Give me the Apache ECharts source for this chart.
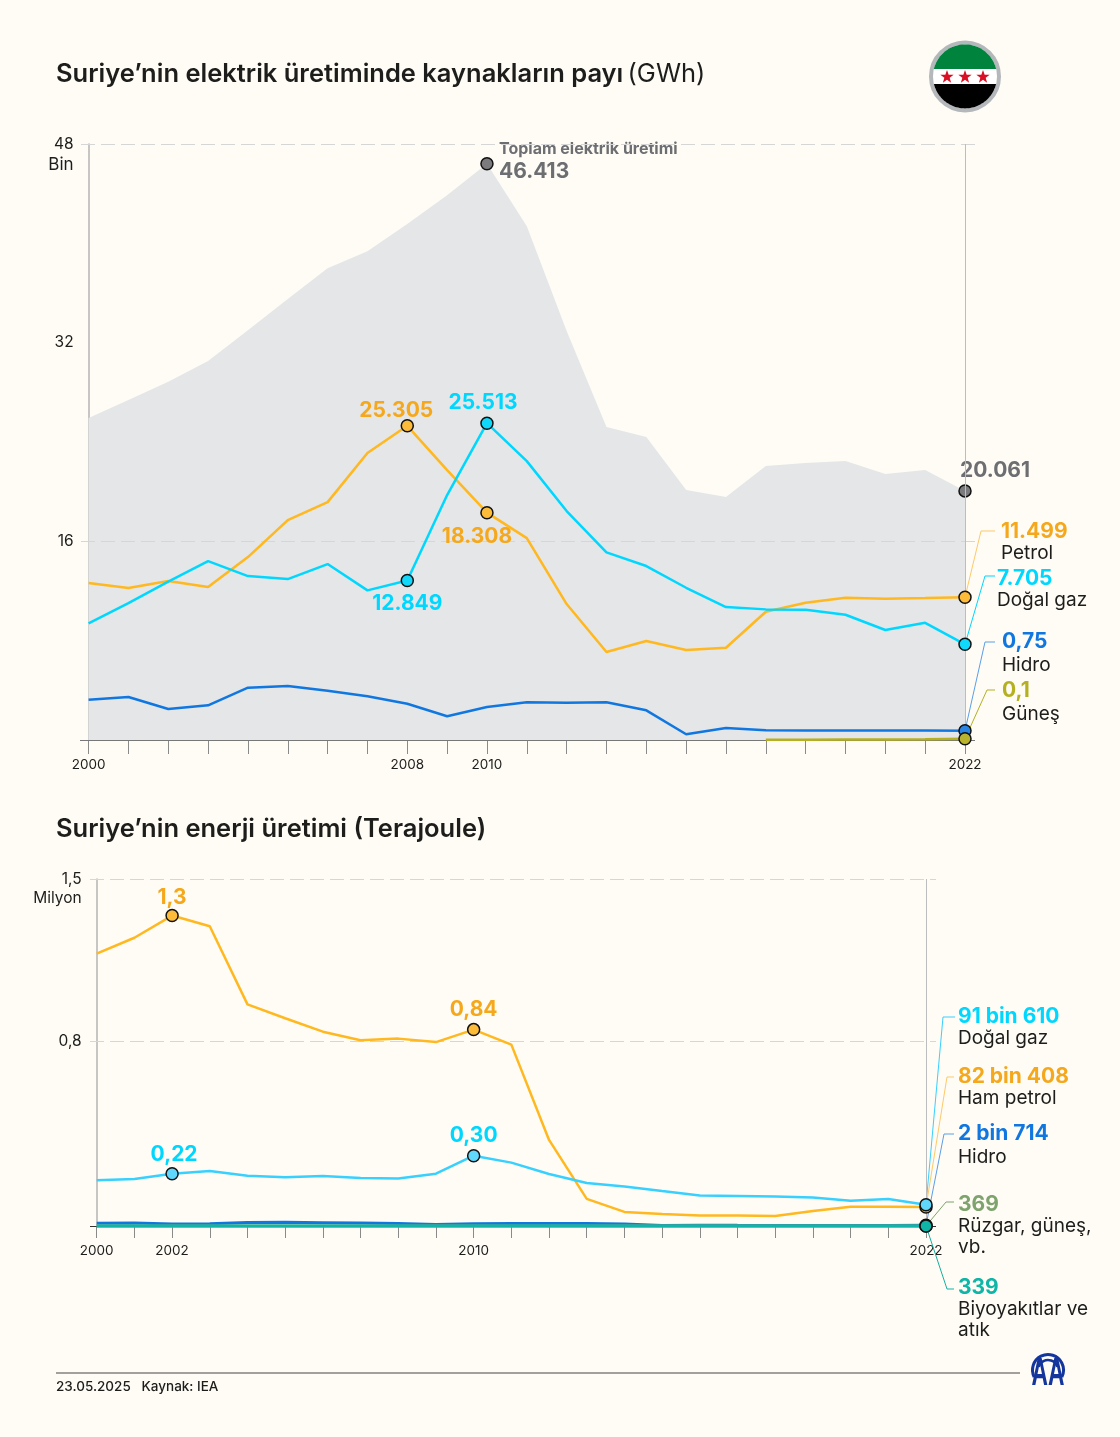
<!DOCTYPE html>
<html>

<head>
	<meta charset="utf-8">
	<title>Suriye elektrik ve enerji üretimi</title>
	<script src="https://cdn.jsdelivr.net/npm/echarts@6/dist/echarts.min.js"></script>
	<style>
		html, body { margin: 0; padding: 0; background: #fefcf5; }
		#chart { width: 1120px; height: 1437px; }
	</style>
</head>

<body>
	<div id="chart"></div>
	<script type="text/javascript">
		var years = ['2000', '2001', '2002', '2003', '2004', '2005', '2006', '2007', '2008', '2009', '2010', '2011',
			'2012', '2013', '2014', '2015', '2016', '2017', '2018', '2019', '2020', '2021', '2022'];

		// elektrik üretimi, GWh
		var elecTotal = [25930, 27380, 28860, 30520, 33010, 35510, 38000, 39370, 41550, 43880, 46413, 41380,
			32930, 25200, 24400, 20130, 19570, 22060, 22300, 22460, 21420, 21740, 20061];
		var elecPetrol = [12640, 12240, 12800, 12320, 14730, 17710, 19160, 23110, 25305, 21740, 18308, 16260,
			10950, 7090, 7970, 7250, 7430, 10330, 11050, 11460, 11380, 11430, 11499];
		var elecGas = [9400, 11030, 12750, 14410, 13200, 12960, 14170, 12050, 12849, 19730, 25513, 22460,
			18440, 15110, 14010, 12260, 10710, 10520, 10490, 10090, 8860, 9440, 7705];
		var elecHydro = [3240, 3460, 2500, 2790, 4210, 4350, 3970, 3520, 2920, 1910, 2660, 3040,
			3000, 3040, 2390, 460, 970, 780, 760, 760, 760, 760, 750];
		var elecSolar = [null, null, null, null, null, null, null, null, null, null, null, null,
			null, null, null, null, null, 30, 30, 40, 50, 70, 100];

		// enerji üretimi, Terajoule
		var energyOil = [1177000, 1246000, 1342000, 1296000, 958000, 898000, 840000, 803000, 810000, 795000, 849000, 784000,
			372000, 117000, 61000, 52000, 45000, 45000, 43000, 65000, 83000, 83000, 82408];
		var energyGas = [198000, 203000, 226000, 238000, 217000, 211000, 216000, 208000, 205000, 226000, 304000, 274000,
			225000, 186000, 171000, 151000, 132000, 130000, 128000, 123000, 109000, 117000, 91610];
		var energyHydro = [11700, 12500, 9000, 10000, 15000, 15700, 14300, 12700, 10500, 6900, 9600, 10900,
			10800, 10900, 8600, 1700, 3500, 2800, 2700, 2700, 2700, 2700, 2714];
		var energyWind = [0, 0, 0, 0, 0, 0, 0, 0, 0, 0, 0, 100, 100, 100, 100, 100, 200, 200, 200, 300, 300, 300, 369];
		var energyBio = [300, 300, 300, 300, 300, 300, 300, 300, 300, 300, 300, 300, 300, 300, 300, 300, 300, 300, 300, 300, 300, 300, 339];

		var elecTicks = [16000, 32000, 48000];
		var energyTicks = [800000, 1500000];
		var elecYearLabels = ['2000', '2008', '2010', '2022'];
		var energyYearLabels = ['2000', '2002', '2010', '2022'];

		var font = 'Inter';
		var ink = '#1d1d1b';
		var cOil = '#ffb81f', cOilText = '#f5a81c';
		var cGas = '#00d7ff', cGas2 = '#38d0ff';
		var cHydro = '#1177e0';
		var cSolar = '#b5b022';
		var cGrey = '#6d6e71';
		var cWind = '#7fa36e', cBio = '#0fb5a6';
		var cLogo = '#14359c';

		var chart = echarts.init(document.getElementById('chart'));

		// value + name block shown next to the last year
		function endText(value, name, color, nameHeight) {
			return {
				formatter: '{v|' + value + '}\n{n|' + name.join('}\n{n|') + '}',
				align: 'left',
				rich: {
					v: { fontFamily: font, fontSize: 21, fontWeight: 700, color: color, lineHeight: 22 },
					n: { fontFamily: font, fontSize: 19, color: ink, lineHeight: nameHeight || 21 }
				}
			};
		}

		function peakText(text, color) {
			return { formatter: text, color: color, fontSize: 21, fontWeight: 700, fontFamily: font };
		}

		// marks: { index: {dot colour, label settings, offset} }
		function lineSeries(name, values, color, width, xy, marks) {
			return {
				name: name,
				type: 'line',
				xAxisIndex: xy,
				yAxisIndex: xy,
				data: values.map(function (v, i) {
					var m = marks[i];
					if (!m) return v;
					return {
						value: v,
						symbol: 'circle',
						symbolSize: 12,
						itemStyle: { color: m.dot, borderColor: '#111', borderWidth: 1.5, opacity: 1 },
						label: Object.assign({ show: true, position: 'inside', offset: m.offset }, m.label)
					};
				}),
				symbol: 'none',
				showAllSymbol: true,
				clip: false,
				lineStyle: { color: color, width: width },
				silent: true
			};
		}

		var dash = { type: [14, 6], color: '#d6d6d6', width: 1.2 };
		var solid = { type: 'solid', color: '#bdbdbd', width: 1 };

		function hLine(yVal, x0, x1, style) {
			return [{ x: x0, yAxis: yVal, lineStyle: style }, { x: x1, yAxis: yVal }];
		}

		var totalSeries = lineSeries('Toplam elektrik üretimi', elecTotal, '#e4e6e8', 0, 0, {
			10: {
				dot: '#7b7b7e', offset: [12, -2],
				label: {
					formatter: '{a|Toplam elektrik üretimi}\n{b|46.413}', align: 'left',
					rich: {
						a: { fontFamily: font, fontSize: 16, fontWeight: 700, color: cGrey, lineHeight: 19 },
						b: { fontFamily: font, fontSize: 21, fontWeight: 700, color: cGrey, lineHeight: 26 }
					}
				}
			},
			22: { dot: '#7b7b7e', offset: [30, -20], label: peakText('20.061', cGrey) }
		});
		totalSeries.areaStyle = { color: '#e4e6e8', opacity: 1 };
		totalSeries.z = 1;
		totalSeries.markLine = {
			silent: true, symbol: 'none', z: 2, animation: false, label: { show: false },
			data: [
				hLine(48000, 81, 975, dash),
				hLine(16000, 81, 975, dash),
				hLine(0, 80, 975, { type: 'solid', color: '#777', width: 1 }),
				{ xAxis: '2022', lineStyle: solid }
			]
		};

		var oilSeries2 = lineSeries('Ham petrol', energyOil, cOil, 2.5, 1, {
			2: { dot: '#fdbb3a', offset: [0, -18], label: peakText('1,3', cOilText) },
			10: { dot: '#fdbb3a', offset: [0, -20], label: peakText('0,84', cOilText) },
			22: { dot: '#fdbb3a', offset: [32, -120], label: endText('82 bin 408', ['Ham petrol'], cOilText) }
		});
		oilSeries2.markLine = {
			silent: true, symbol: 'none', z: 2, animation: false, label: { show: false },
			data: [
				hLine(1500000, 90, 936, dash),
				hLine(800000, 90, 936, dash),
				hLine(0, 90, 936, { type: 'solid', color: '#333', width: 1 }),
				{ xAxis: '2022', lineStyle: solid }
			]
		};

		var option = {
			backgroundColor: '#fefcf5',
			animation: false,
			textStyle: { fontFamily: font },
			title: [
				{
					text: '{b|Suriye’nin elektrik üretiminde kaynakların payı} {r|(GWh)}',
					left: 51, top: 56,
					textStyle: {
						rich: {
							b: { fontFamily: font, fontSize: 25.5, fontWeight: 600, color: ink },
							r: { fontFamily: font, fontSize: 25.5, fontWeight: 400, color: ink }
						}
					}
				},
				{
					text: 'Suriye’nin enerji üretimi (Terajoule)',
					left: 51, top: 811,
					textStyle: { fontFamily: font, fontSize: 25.5, fontWeight: 600, color: ink }
				},
				{
					text: '23.05.2025   Kaynak: IEA',
					left: 51, top: 1375,
					textStyle: { fontFamily: font, fontSize: 13.5, fontWeight: 500, color: ink }
				}
			],
			grid: [
				{ left: 88.6, top: 144, width: 876.4, height: 596 },
				{ left: 96.7, top: 879, width: 829.3, height: 347 }
			],
			xAxis: [
				{
					type: 'category', gridIndex: 0, data: years, boundaryGap: false,
					axisLine: { lineStyle: { color: '#777', width: 1 } },
					axisTick: { interval: 0, length: 14, lineStyle: { color: '#8a8a8a', width: 1 } },
					axisLabel: {
						margin: 18, fontSize: 13.5, fontFamily: font, color: ink,
						interval: function (i, v) { return elecYearLabels.indexOf(v) >= 0; }
					}
				},
				{
					type: 'category', gridIndex: 1, data: years, boundaryGap: false,
					axisLine: { lineStyle: { color: '#777', width: 1 } },
					axisTick: { interval: 0, length: 12, lineStyle: { color: '#8a8a8a', width: 1 } },
					axisLabel: {
						margin: 18, fontSize: 13.5, fontFamily: font, color: ink,
						interval: function (i, v) { return energyYearLabels.indexOf(v) >= 0; }
					}
				}
			],
			yAxis: [
				{
					type: 'value', gridIndex: 0, min: 0, max: 48000,
					name: 'Bin', nameLocation: 'end', nameGap: -21,
					nameTextStyle: { fontFamily: font, fontSize: 17, color: ink, align: 'right', verticalAlign: 'middle', padding: [0, 15, 0, 0] },
					axisLine: { show: true, lineStyle: { color: '#b5b5b5', width: 1.5 } },
					axisTick: { show: false },
					splitLine: { show: false },
					axisLabel: {
						customValues: elecTicks, margin: 15, fontSize: 15.5, fontFamily: font, color: ink, padding: [6, 0, 0, 0],
						formatter: function (v) { return String(v / 1000); }
					}
				},
				{
					type: 'value', gridIndex: 1, min: 0, max: 1500000,
					name: 'Milyon', nameLocation: 'end', nameGap: -19,
					nameTextStyle: { fontFamily: font, fontSize: 15.5, color: ink, align: 'right', verticalAlign: 'middle', padding: [0, 15, 0, 0] },
					axisLine: { show: true, lineStyle: { color: '#b5b5b5', width: 1.5 } },
					axisTick: { show: false },
					splitLine: { show: false },
					axisLabel: {
						customValues: energyTicks, margin: 15, fontSize: 15.5, fontFamily: font, color: ink, padding: [6, 0, 0, 0],
						formatter: function (v) { return String(v / 1000000).replace('.', ','); }
					}
				}
			],
			series: [
				totalSeries,
				lineSeries('Petrol', elecPetrol, cOil, 2.5, 0, {
					8: { dot: '#fdbb3a', offset: [-11, -15], label: peakText('25.305', cOilText) },
					10: { dot: '#fdbb3a', offset: [-10, 24], label: peakText('18.308', cOilText) },
					22: { dot: '#fdbb3a', offset: [36, -55], label: endText('11.499', ['Petrol'], cOilText) }
				}),
				lineSeries('Doğal gaz', elecGas, cGas, 2.5, 0, {
					8: { dot: '#10d8fb', offset: [0, 23], label: peakText('12.849', cGas) },
					10: { dot: '#10d8fb', offset: [-4, -21], label: peakText('25.513', cGas) },
					22: { dot: '#10d8fb', offset: [32, -55], label: endText('7.705', ['Doğal gaz'], cGas) }
				}),
				lineSeries('Hidro', elecHydro, cHydro, 2.5, 0, {
					22: { dot: '#2a84e4', offset: [37, -76], label: endText('0,75', ['Hidro'], cHydro, 26) }
				}),
				lineSeries('Güneş', elecSolar, cSolar, 2.5, 0, {
					22: { dot: '#b9b32e', offset: [37, -35], label: endText('0,1', ['Güneş'], cSolar, 26) }
				}),

				oilSeries2,
				lineSeries('Doğal gaz', energyGas, cGas2, 2.5, 1, {
					2: { dot: '#5fd8fb', offset: [2, -19], label: peakText('0,22', cGas) },
					10: { dot: '#5fd8fb', offset: [0, -20], label: peakText('0,30', cGas) },
					22: { dot: '#5fd8fb', offset: [32, -178], label: endText('91 bin 610', ['Doğal gaz'], cGas) }
				}),
				lineSeries('Hidro', energyHydro, cHydro, 3, 1, {
					22: { dot: '#2a84e4', offset: [32, -79], label: endText('2 bin 714', ['Hidro'], cHydro, 26) }
				}),
				lineSeries('Rüzgar, güneş, vb.', energyWind, cWind, 3, 1, {
					22: { dot: '#7fa36e', offset: [32, 0], label: endText('369', ['Rüzgar, güneş,', 'vb.'], cWind) }
				}),
				lineSeries('Biyoyakıtlar ve atık', energyBio, cBio, 3, 1, {
					22: { dot: cBio, offset: [32, 83], label: endText('339', ['Biyoyakıtlar ve', 'atık'], cBio) }
				})
			]
		};

		chart.setOption(option);

		// leader lines from the 2022 dots to their text blocks
		function leader(xy, value, bend, endX, color) {
			var p = chart.convertToPixel({ xAxisIndex: xy, yAxisIndex: xy }, ['2022', value]);
			return {
				type: 'polyline', z: 1, silent: true,
				shape: { points: [p, bend, [endX, bend[1]]] },
				style: { stroke: color, lineWidth: 1, fill: null }
			};
		}

		var flagX = 965, flagY = 76.4, flagR = 32;
		var starXs = [947, 965, 983];

		function star(cx, cy, r) {
			var pts = [];
			for (var i = 0; i < 10; i++) {
				var a = -Math.PI / 2 + i * Math.PI / 5;
				var rr = i % 2 ? r * 0.4 : r;
				pts.push([cx + rr * Math.cos(a), cy + rr * Math.sin(a)]);
			}
			return { type: 'polygon', shape: { points: pts }, style: { fill: '#d90f24' } };
		}

		// flag band: the part of the disc above (side -1) or below (side 1) a horizontal cut
		function band(cutY, side, color) {
			var pts = [];
			var a0 = Math.asin((cutY - flagY) / flagR);
			var from = side < 0 ? Math.PI - a0 : a0;
			var to = side < 0 ? 2 * Math.PI + a0 : Math.PI - a0;
			for (var i = 0; i <= 48; i++) {
				var a = from + (to - from) * i / 48;
				pts.push([flagX + flagR * Math.cos(a), flagY + flagR * Math.sin(a)]);
			}
			return { type: 'polygon', shape: { points: pts }, style: { fill: color } };
		}

		var graphics = [
			leader(0, elecPetrol[22], [981, 531], 995, '#fdc96b'),
			leader(0, elecGas[22], [985, 576], 995, cGas),
			leader(0, elecHydro[22], [985, 642], 995, '#5a9fe8'),
			leader(0, elecSolar[22], [987, 690], 995, cSolar),
			leader(1, energyGas[22], [943, 1017], 955, cGas2),
			leader(1, energyOil[22], [947, 1077], 954, '#fdc96b'),
			leader(1, energyHydro[22], [944, 1134], 954, '#5a9fe8'),
			leader(1, energyWind[22], [946, 1202], 954, cWind),
			leader(1, energyBio[22], [947, 1289], 954, cBio),

			// bayrak
			{ type: 'circle', shape: { cx: flagX, cy: flagY, r: 34 }, style: { fill: '#fff', stroke: '#b5b8ba', lineWidth: 4 } },
			band(69, -1, '#00843d'),
			band(84, 1, '#000')
		].concat(starXs.map(function (x) { return star(x, 77, 7); })).concat([

			// alt çizgi ve AA logosu
			{ type: 'line', shape: { x1: 56, y1: 1373, x2: 1020, y2: 1373 }, style: { stroke: '#444', lineWidth: 1 } },
			{ type: 'arc', shape: { cx: 1048, cy: 1370, r: 15.5, startAngle: Math.PI * 0.85, endAngle: Math.PI * 2.15, clockwise: true }, style: { stroke: cLogo, lineWidth: 3, fill: null } },
			{ type: 'arc', shape: { cx: 1048, cy: 1370, r: 10, startAngle: Math.PI * 1.1, endAngle: Math.PI * 1.9, clockwise: true }, style: { stroke: cLogo, lineWidth: 2.5, fill: null } },
			{
				type: 'text', x: 1048, y: 1375, scaleX: 0.6,
				style: { text: 'AA', font: 'bold 38px "Liberation Sans"', fill: cLogo, align: 'center', verticalAlign: 'middle' }
			}
		]);

		chart.setOption({ graphic: graphics });
	</script>
</body>

</html>
